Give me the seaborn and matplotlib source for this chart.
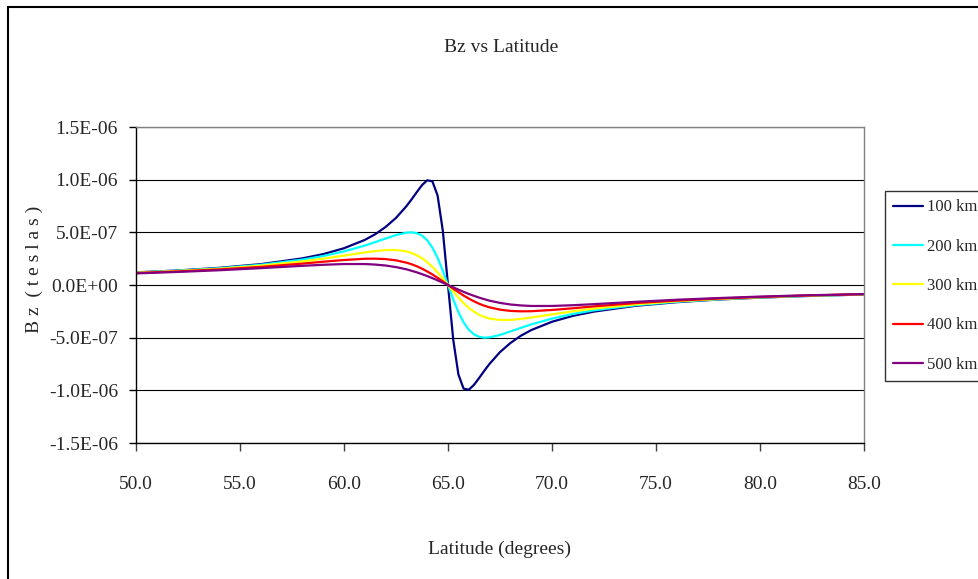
import pandas as pd
import seaborn as sns
import matplotlib
matplotlib.use("Agg")
import matplotlib.pyplot as plt
from matplotlib.patches import Rectangle
from matplotlib.ticker import FuncFormatter

# latitude (degrees) of each sample
latitude = [50, 52, 54, 56, 58, 59, 60, 61, 61.5, 62, 62.5, 63, 63.25, 63.5, 63.75, 64, 64.25, 64.5, 64.75,
            65,
            65.25, 65.5, 65.75, 66, 66.25, 66.5, 66.75, 67, 67.5, 68, 68.5, 69, 70, 71, 72, 74, 76, 78, 80, 82, 85]

# Bz values, in units of 1e-7 teslas
bz_100 = [1.20, 1.38, 1.63, 1.98, 2.53, 2.93, 3.49, 4.28, 4.82, 5.51, 6.37, 7.48, 8.13, 8.82, 9.48, 9.94, 9.84, 8.49, 5.16,
          0.0,
          -5.16, -8.49, -9.84, -9.94, -9.48, -8.82, -8.13, -7.48, -6.37, -5.51, -4.82, -4.28, -3.49, -2.93, -2.53,
          -1.98, -1.63, -1.38, -1.20, -1.06, -0.90]
bz_200 = [1.18, 1.36, 1.59, 1.92, 2.41, 2.75, 3.19, 3.74, 4.07, 4.41, 4.74, 4.97, 5.00, 4.92, 4.69, 4.25, 3.55, 2.58, 1.36,
          0.0,
          -1.36, -2.58, -3.55, -4.25, -4.69, -4.92, -5.00, -4.97, -4.74, -4.41, -4.07, -3.74, -3.19, -2.75, -2.41,
          -1.92, -1.59, -1.36, -1.18, -1.05, -0.89]
bz_300 = [1.16, 1.33, 1.54, 1.84, 2.24, 2.50, 2.79, 3.09, 3.22, 3.32, 3.32, 3.19, 3.04, 2.83, 2.54, 2.17, 1.72, 1.19, 0.61,
          0.0,
          -0.61, -1.19, -1.72, -2.17, -2.54, -2.83, -3.04, -3.19, -3.32, -3.32, -3.22, -3.09, -2.79, -2.50, -2.24,
          -1.84, -1.54, -1.33, -1.16, -1.03, -0.88]
bz_400 = [1.14, 1.29, 1.48, 1.72, 2.03, 2.21, 2.37, 2.49, 2.50, 2.46, 2.34, 2.12, 1.97, 1.78, 1.55, 1.29, 1.00, 0.68, 0.35,
          0.0,
          -0.35, -0.68, -1.00, -1.29, -1.55, -1.78, -1.97, -2.12, -2.34, -2.46, -2.50, -2.49, -2.37, -2.21, -2.03,
          -1.72, -1.48, -1.29, -1.14, -1.01, -0.87]
bz_500 = [1.10, 1.24, 1.40, 1.60, 1.82, 1.92, 1.99, 1.99, 1.94, 1.85, 1.70, 1.49, 1.35, 1.20, 1.03, 0.85, 0.65, 0.44, 0.22,
          0.0,
          -0.22, -0.44, -0.65, -0.85, -1.03, -1.20, -1.35, -1.49, -1.70, -1.85, -1.94, -1.99, -1.99, -1.92, -1.82,
          -1.60, -1.40, -1.24, -1.10, -0.99, -0.86]

series_names = ["100 km", "200 km", "300 km", "400 km", "500 km"]
series_colors = ["#000080", "#00FFFF", "#FFFF00", "#FF0000", "#800080"]
y_ticks = [-1.5e-6, -1.0e-6, -5.0e-7, 0.0, 5.0e-7, 1.0e-6, 1.5e-6]
x_ticks = [50, 55, 60, 65, 70, 75, 80, 85]

# long form table for seaborn
rows = []
for name, vals in zip(series_names, [bz_100, bz_200, bz_300, bz_400, bz_500]):
    for lat, v in zip(latitude, vals):
        rows.append({"lat": lat, "bz": v * 1e-7, "alt": name})
df = pd.DataFrame(rows)

sns.set_style("white")
plt.rcParams["font.family"] = ["Liberation Serif", "DejaVu Serif"]
fs = 14

fig = plt.figure(figsize=(9.79, 5.79), dpi=100)
ax = fig.add_axes([136 / 979, 1 - 443 / 579, 728 / 979, 316 / 579])

sns.lineplot(data=df, x="lat", y="bz", hue="alt", hue_order=series_names,
             palette=series_colors, linewidth=1.6, ax=ax, legend=True, sort=True)

ax.set_xlim(50, 85)
ax.set_ylim(-1.5e-6, 1.5e-6)
ax.set_xticks(x_ticks)
ax.set_yticks(y_ticks)
ax.xaxis.set_major_formatter(FuncFormatter(lambda v, p: f"{v:.1f}"))
ax.yaxis.set_major_formatter(FuncFormatter(lambda v, p: f"{v:.1E}"))
ax.tick_params(axis="y", which="major", direction="out", length=5, width=1, color="black",
               labelsize=fs, pad=8, left=True)
ax.tick_params(axis="x", which="major", direction="out", length=6, width=1, color="#404040",
               labelsize=fs, pad=18, bottom=True)

ax.yaxis.grid(True, color="black", linewidth=0.8)
ax.xaxis.grid(False)
ax.set_axisbelow(True)

for side in ["left", "bottom"]:
    ax.spines[side].set_color("black")
    ax.spines[side].set_linewidth(1.0)
for side in ["top", "right"]:
    ax.spines[side].set_color("#808080")
    ax.spines[side].set_linewidth(1.0)

ax.set_xlabel("Latitude (degrees)", fontsize=fs)
ax.xaxis.set_label_coords(0.5, -0.31)
ax.set_ylabel("B z  ( t e s l a s )", fontsize=fs)
ax.yaxis.set_label_coords(-0.128, 0.55)

fig.text(501 / 979, 1 - 48 / 579, "Bz vs Latitude", ha="center", va="center", fontsize=fs)

# legend sits at the right edge, like the original
ax.legend_.remove()
handles, labels = ax.get_legend_handles_labels()
leg = fig.legend(handles, labels, loc="upper left", bbox_to_anchor=(885 / 979, 1 - 191 / 579),
                 bbox_transform=fig.transFigure, borderaxespad=0, fontsize=12, frameon=True,
                 fancybox=False, edgecolor="black", handlelength=1.8, handletextpad=0.25,
                 labelspacing=1.4, borderpad=0.5)
leg.get_frame().set_linewidth(1.0)
for line in leg.get_lines():
    line.set_linewidth(1.6)

# outer chart border
fig.patches.append(Rectangle((8 / 979, -0.05), 1.2, 1.05 - 7 / 579, transform=fig.transFigure,
                             fill=False, edgecolor="black", linewidth=1.5, clip_on=False))

fig.savefig("out.png", dpi=100)
